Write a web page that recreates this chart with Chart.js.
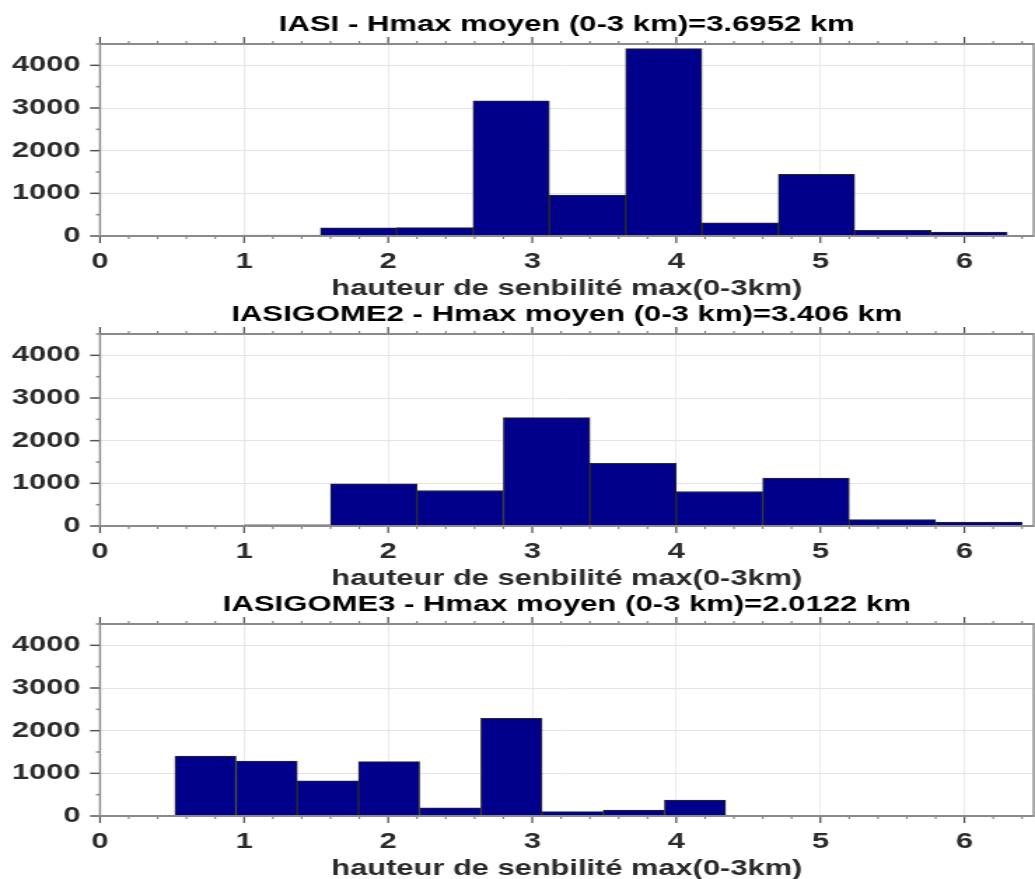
<!DOCTYPE html>
<html>
<head>
<meta charset="utf-8">
<script src="https://cdn.jsdelivr.net/npm/chart.js@4/dist/chart.umd.min.js"></script>
<style>
  html, body { margin: 0; padding: 0; background: #fff; overflow: hidden; }
  canvas { position: absolute; left: 0; width: 1035px; height: 300px; }
</style>
</head>
<body>
<canvas id="c1" width="739" height="300" style="top:0px;width:1035px;height:300px"></canvas>
<canvas id="c2" width="739" height="300" style="top:290px;width:1035px;height:300px"></canvas>
<canvas id="c3" width="739" height="300" style="top:580px;width:1035px;height:300px"></canvas>
<script>
//----------------------
// Data (bin centres in km, counts)
//----------------------
const titles = [
  'IASI - Hmax moyen (0-3 km)=3.6952 km',
  'IASIGOME2 - Hmax moyen (0-3 km)=3.406 km',
  'IASIGOME3 - Hmax moyen (0-3 km)=2.0122 km'
];
const xLabel = 'hauteur de senbilité max(0-3km)';

const centersIasi = [1.265, 1.795, 2.324, 2.854, 3.384, 3.913, 4.443, 4.973, 5.503, 6.032];
const countsIasi = [20, 190, 195, 3170, 960, 4390, 306, 1446, 134, 94];

const centersGome2 = [1.3, 1.9, 2.5, 3.1, 3.7, 4.3, 4.9, 5.5, 6.1];
const countsGome2 = [30, 990, 833, 2541, 1467, 808, 1122, 149, 94];

const centersGome3 = [0.732, 1.157, 1.582, 2.006, 2.431, 2.856, 3.280, 3.705, 4.130];
const countsGome3 = [1407, 1289, 825, 1273, 189, 2290, 102, 141, 376];

const xTicks = [0, 1, 2, 3, 4, 5, 6];
const yTicks = [0, 1000, 2000, 3000, 4000];

//----------------------
// Layout helpers
//----------------------
const SX = 1035 / 739; // canvas is stretched horizontally by css
const FONT = '"Liberation Sans", Arial, Helvetica, sans-serif';
const X_MAX = 6.48;

// box + outward tick marks, drawn over the bars
const frame = {
  id: 'frame',
  afterDatasetsDraw(chart) {
    const {ctx, chartArea: a, scales: {x, y}} = chart;
    ctx.save();
    ctx.lineCap = 'butt';
    // x ticks (top and bottom)
    for (let i = 0; i * 0.2 <= x.max + 1e-9; i++) {
      const px = x.getPixelForValue(i * 0.2);
      const major = i % 5 === 0;
      const len = major ? 7 : 3;
      ctx.strokeStyle = major ? '#333' : '#777';
      ctx.lineWidth = 1.5 / SX;
      ctx.beginPath();
      ctx.moveTo(px, a.bottom); ctx.lineTo(px, a.bottom + len);
      ctx.moveTo(px, a.top); ctx.lineTo(px, a.top - len);
      ctx.stroke();
    }
    // y ticks (left)
    for (let i = 0; i * 500 <= y.max; i++) {
      const py = y.getPixelForValue(i * 500);
      const major = i % 2 === 0;
      ctx.strokeStyle = major ? '#555' : '#888';
      ctx.lineWidth = 1.5;
      ctx.beginPath();
      ctx.moveTo(a.left, py); ctx.lineTo(a.left - (major ? 10 : 4) / SX, py);
      ctx.stroke();
    }
    // box
    ctx.strokeStyle = '#8a8a8a';
    ctx.lineWidth = 2;
    ctx.beginPath();
    ctx.moveTo(a.left, a.top); ctx.lineTo(a.right, a.top);
    ctx.moveTo(a.left, a.bottom); ctx.lineTo(a.right, a.bottom);
    ctx.stroke();
    ctx.lineWidth = 2 / SX;
    ctx.beginPath();
    ctx.moveTo(a.left, a.top - 1); ctx.lineTo(a.left, a.bottom + 1);
    ctx.moveTo(a.right, a.top - 1); ctx.lineTo(a.right, a.bottom + 1);
    ctx.stroke();
    ctx.restore();
  }
};

function makeHist(id, title, centers, counts) {
  const ctx = document.getElementById(id).getContext('2d');
  return new Chart(ctx, {
    type: 'bar',
    data: {
      datasets: [{
        data: centers.map((c, i) => ({x: c, y: counts[i]})),
        backgroundColor: '#00008b',
        borderColor: '#2a2a2a',
        borderWidth: 1,
        categoryPercentage: 1,
        barPercentage: 1
      }]
    },
    options: {
      responsive: false,
      animation: false,
      layout: { padding: { left: 0, right: 1, top: 0, bottom: 0 } },
      plugins: {
        legend: { display: false },
        tooltip: { enabled: false }
      },
      scales: {
        x: {
          type: 'linear',
          min: 0,
          max: X_MAX,
          offset: false,
          afterBuildTicks: s => { s.ticks = xTicks.map(v => ({value: v})); },
          afterFit: s => { s.height = 64; },
          ticks: {
            padding: 13,
            color: '#2b2b2b',
            font: { family: FONT, size: 22, weight: 'bold' },
            maxRotation: 0,
            callback: v => String(v)
          },
          grid: { offset: false, color: '#e4e4e4', lineWidth: 0.8, drawTicks: false },
          border: { display: false },
          title: {
            display: true,
            text: xLabel,
            color: '#2b2b2b',
            font: { family: FONT, size: 22, weight: 'bold', lineHeight: 1 },
            padding: 0
          }
        },
        // top axis only carries the panel title, centred over the plot
        xTop: {
          type: 'linear',
          position: 'top',
          min: 0,
          max: X_MAX,
          offset: false,
          afterFit: s => { s.height = 44; },
          ticks: { display: false },
          grid: { display: false, drawTicks: false },
          border: { display: false },
          title: {
            display: true,
            text: title,
            color: '#000',
            font: { family: FONT, size: 22.2, weight: 'bold', lineHeight: 1 },
            padding: { top: 14, bottom: 0 }
          }
        },
        y: {
          min: 0,
          max: 4500,
          afterBuildTicks: s => { s.ticks = yTicks.map(v => ({value: v})); },
          afterFit: s => { s.width = 100 / SX; },
          ticks: {
            padding: 14,
            color: '#2b2b2b',
            font: { family: FONT, size: 22, weight: 'bold' },
            callback: v => String(v)
          },
          grid: { color: '#e4e4e4', lineWidth: 1, drawTicks: false },
          border: { display: false }
        }
      }
    },
    plugins: [frame]
  });
}

makeHist('c1', titles[0], centersIasi, countsIasi);
makeHist('c2', titles[1], centersGome2, countsGome2);
makeHist('c3', titles[2], centersGome3, countsGome3);
</script>
</body>
</html>
